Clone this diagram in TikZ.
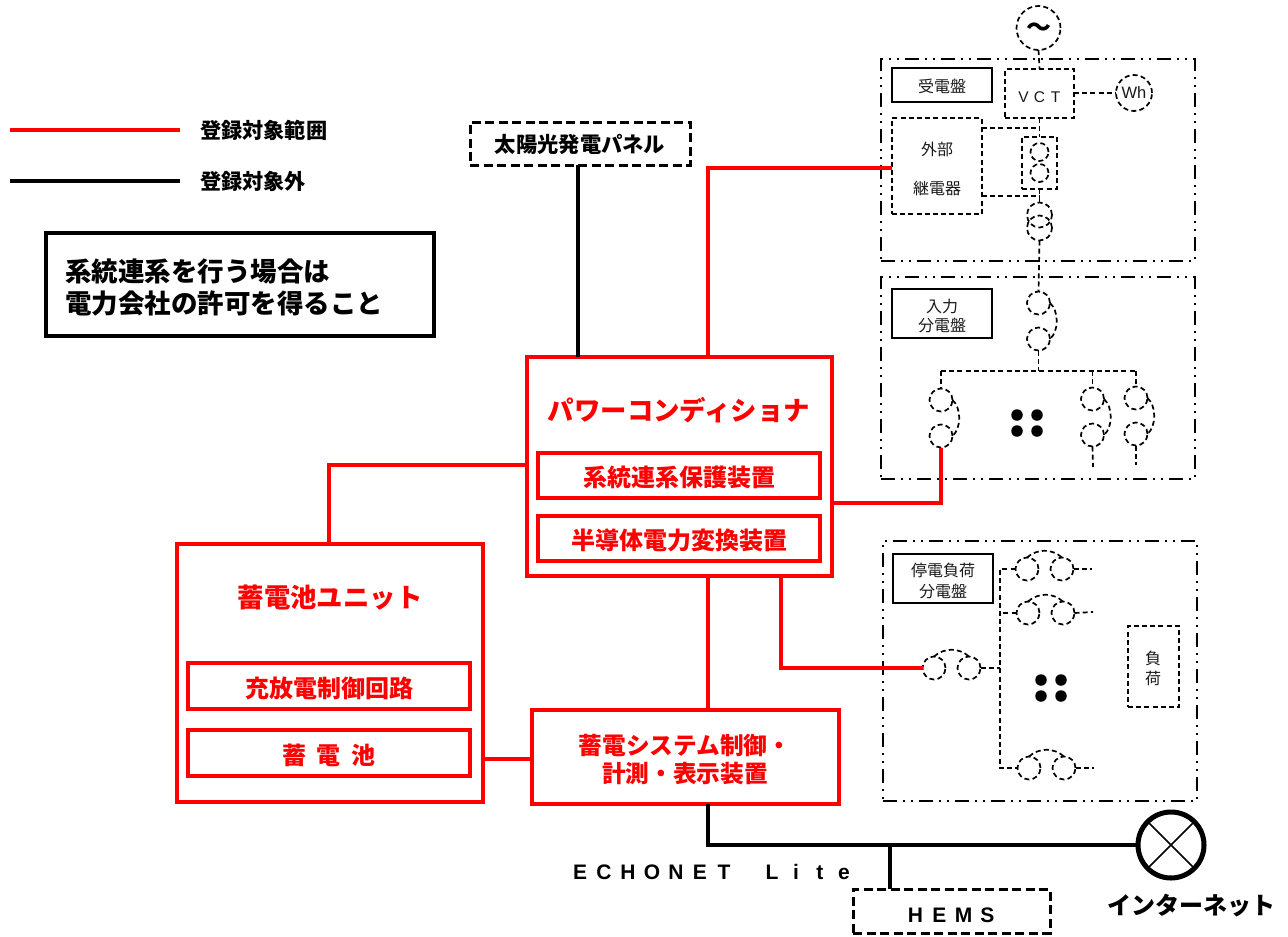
\documentclass[tikz,border=0pt]{standalone}
\usepackage{fontspec}
\setmainfont{Noto Sans CJK JP}
\newfontfamily\arialf{Liberation Sans}
\newcommand\fs[1]{\fontsize{#1}{#1}\selectfont}
\newcommand\cellw[2]{\makebox[#1pt]{#2}}
\newcommand\rnode[7][]{%
  \pgfmathsetmacro\rcx{(#3+#5)/2}\pgfmathsetmacro\rcy{(#4+#6)/2}%
  \pgfmathsetmacro\rw{#5-#3}\pgfmathsetmacro\rh{#6-#4}%
  \node[#1,minimum width=\rw pt,minimum height=\rh pt] (#2) at (\rcx,\rcy) {\raisebox{-0.47em}[0pt][0pt]{#7}};}
\newcommand\vbrk[4]{% name x y1 y2
  \node[brk] (#1a) at (#2,#3) {};
  \node[brk] (#1b) at (#2,#4) {};
  \draw[dsh] (#1a.east) .. controls ($(#1a.east)+(9,8)$) and ($(#1b.east)+(9,-8)$) .. (#1b.east);}
\newcommand\hbrk[4]{% name x1 x2 y
  \node[brk] (#1a) at (#2,#4) {};
  \node[brk] (#1b) at (#3,#4) {};
  \draw[dsh] (#1a.north) .. controls ($(#1a.north)+(10,-9)$) and ($(#1b.north)+(-10,-9)$) .. (#1b.north);}
\usetikzlibrary{calc}
\tikzset{
  x=1pt,y=-1pt,
  every node/.style={inner sep=0pt,outer sep=0pt},
  redline/.style={draw=red,line width=4.7pt,line join=miter},
  blackline/.style={draw=black,line width=4.5pt,line join=miter},
  redbox/.style={draw=red,line width=3.05pt,text=red,font=\bfseries\fs{24}},
  dshthick/.style={draw=black,line width=3pt,dash pattern=on 9pt off 4.5pt},
  panel/.style={draw=black,line width=1.8pt,dash pattern=on 14pt off 6pt on 2pt off 6pt on 2pt off 6pt},
  dsh/.style={draw=black,line width=1.7pt,dash pattern=on 5pt off 3.2pt},
  label/.style={draw=black,line width=1.8pt,text=black!90,font=\fs{16}},
  txt/.style={font=\fs{16},text=black!90},
  brk/.style={dsh,circle,minimum size=23pt},
  bld/.style={font=\bfseries\fs{24},text=black},
  dot/.style={circle,fill=black,minimum size=11.5pt},
}
\begin{document}
\begin{tikzpicture}
\useasboundingbox (0,0) rectangle (1288,937);
% legend
\coordinate (la) at (10,130); \coordinate (lb) at (180,130);
\coordinate (lc) at (10,181); \coordinate (ld) at (180,181);
\draw[redline] (la) -- (lb);
\draw[draw=black,line width=3.8pt] (lc) -- (ld);
\node[anchor=west,font=\bfseries\fs{21.2}] (ltxa) at (200,130.5) {登録対象範囲};
\node[anchor=west,font=\bfseries\fs{21.2}] (ltxb) at (200,181.5) {登録対象外};
% note
\rnode[draw=black,line width=3.2pt]{note}{46}{233}{434}{336}{}
\node[anchor=west,font=\bfseries\fs{26.5}] (notea) at (65,271.5) {系統連系を行う場合は};
\node[anchor=west,font=\bfseries\fs{26.5}] (noteb) at (65,303.5) {電力会社の許可を得ること};
% main boxes
\rnode[dshthick,font=\bfseries\fs{21.3}]{solar}{470}{122}{690}{165}{\raisebox{1pt}{太陽光発電パネル}}
\rnode[draw=red,line width=3.05pt]{pcs}{527}{357}{832}{576}{}
\node[font=\bfseries\fs{26.4},text=red] (pcst) at (679,410.5) {パワーコンディショナ};
\rnode[redbox]{pcsa}{538}{453}{820}{498}{系統連系保護装置}
\rnode[redbox]{pcsb}{538}{516}{820}{561}{半導体電力変換装置}
\rnode[draw=red,line width=3.05pt]{bat}{177}{544}{483}{802}{}
\node[font=\bfseries\fs{26.4},text=red] (batt) at (330,597.5) {蓄電池ユニット};
\rnode[redbox]{bata}{188}{663}{470}{709}{充放電制御回路}
\rnode[redbox]{batb}{188}{730}{470}{776}{蓄\hspace{11pt}電\hspace{11pt}池}
\rnode[draw=red,line width=3.05pt]{ctl}{532}{710}{839}{804}{}
\node[font=\bfseries\fs{23.7},text=red] (ctla) at (685,745) {蓄電システム制御・};
\node[font=\bfseries\fs{23.7},text=red] (ctlb) at (685,774) {計測・表示装置};
\rnode[dshthick,font=\arialf\bfseries\fs{21}]{hems}{853}{889}{1050}{933}{\raisebox{-2pt}{\cellw{24}{H}\cellw{24}{E}\cellw{24}{M}\cellw{24}{S}}}
\node[draw=black,line width=5pt,circle,minimum size=66pt] (net) at (1171,845) {};
\draw[line width=1.5pt] (net.north west) -- (net.south east) (net.north east) -- (net.south west);
\node[bld] (nett) at (1191,905.5) {インターネット};
\node[font=\arialf\bfseries\fs{21}] (echo) at (712,872) {\cellw{24}{E}\cellw{24}{C}\cellw{24}{H}\cellw{24}{O}\cellw{24}{N}\cellw{24}{E}\cellw{24}{T}\cellw{24}{ }\cellw{24}{L}\cellw{24}{i}\cellw{24}{t}\cellw{24}{e}};
% panels
\rnode[panel]{p1}{881}{59}{1195}{261}{}
\rnode[panel]{p2}{881}{277}{1195}{479}{}
\rnode[panel]{p3}{883}{541}{1197}{801}{}
% panel 1
\node[dsh,circle,minimum size=44pt] (gen) at (1038.5,28) {};
\node[font=\bfseries\fs{25}] (gent) at (1038.5,30) {～};
\rnode[label]{p1l}{892}{68}{992}{102}{受電盤}
\rnode[dsh,text=black!90,font=\arialf\fs{15.5}]{vct}{1005}{69}{1074}{118}{\raisebox{-2pt}{\cellw{16}{V}\cellw{16}{C}\cellw{16}{T}}}
\node[dsh,circle,minimum size=36pt,text=black!90,font=\arialf\fs{16.5}] (wh) at (1134,93) {Wh};
\rnode[dsh]{relay}{892}{118}{982}{214}{}
\node[txt] (relaya) at (937,149) {外部};
\node[txt] (relayb) at (937,188) {継電器};
\rnode[dsh]{ctb}{1022}{137}{1057}{189}{}
\node[dsh,circle,minimum size=18pt] (cta) at (1039.5,152) {};
\node[dsh,circle,minimum size=18pt] (ctc) at (1039.5,173) {};
\node[dsh,circle,minimum size=25pt] (tra) at (1039.5,215) {};
\node[dsh,circle,minimum size=25pt] (trb) at (1039.5,228) {};
\draw[dsh] (gen.south) -- (vct.north);
\draw[dsh] (vct.east |- wh.west) -- (wh.west);
\draw[dsh] (vct.south) -- (ctb.north);
\draw[dsh] (relay.east |- 0,128) -- (vct.south |- 0,128);
\draw[dsh] (relay.east |- 0,196) -- (vct.south |- 0,196);
\draw[dsh] (ctb.south) -- (tra.north);
% panel 2
\rnode[label]{p2l}{892}{289}{992}{338}{}
\node[txt] (p2a) at (942,306) {入力};
\node[txt] (p2b) at (942,325) {分電盤};
\vbrk{m}{1038.5}{303}{339}
\vbrk{l}{941}{400}{436}
\vbrk{c}{1092.5}{399}{435}
\vbrk{r}{1136}{398}{434}
\coordinate (bus) at (1038.5,371);
\coordinate (cs) at (1093,467);
\coordinate (rs) at (1136,465);
\draw[dsh] (trb.south) -- (ma.north);
\draw[dsh] (mb.south) -- (bus);
\draw[dsh] (la.north |- bus) -- (ra.north |- bus);
\draw[dsh] (la.north |- bus) -- (la.north);
\draw[dsh] (ca.north |- bus) -- (ca.north);
\draw[dsh] (ra.north |- bus) -- (ra.north);
\draw[dsh] (cb.south) -- (cs);
\draw[dsh] (rb.south) -- (rs);
\node[dot] (d1) at (1017,415) {}; \node[dot] (d2) at (1037,415) {};
\node[dot] (d3) at (1017,431) {}; \node[dot] (d4) at (1037,431) {};
% panel 3
\rnode[label]{p3l}{893}{554}{993}{603}{}
\node[txt] (p3a) at (943,570) {停電負荷};
\node[txt] (p3b) at (943,591) {分電盤};
\rnode[dsh]{load}{1128}{626}{1179}{707}{}
\node[txt] (loada) at (1153,658) {負};
\node[txt] (loadb) at (1153,678) {荷};
\hbrk{i}{934}{969}{668}
\hbrk{s}{1027}{1062}{569}
\hbrk{t}{1028}{1063}{613}
\hbrk{u}{1029}{1064}{768}
\coordinate (bt) at (1000,569);
\coordinate (bb) at (1000,768);
\coordinate (se) at (1092,569);
\coordinate (te) at (1093,612);
\coordinate (ue) at (1094,768);
\draw[dsh] (se -| sa.west) -- (bt) -- (bb) -- (ua.west);
\draw[dsh] (ta.west) -- (bt |- ta.west);
\draw[dsh] (ib.east) -- (bt |- ib.east);
\draw[dsh] (sb.east) -- (se);
\draw[dsh] (tb.east) -- (te);
\draw[dsh] (ub.east) -- (ue);
\node[dot] (e1) at (1041,680) {}; \node[dot] (e2) at (1061,680) {};
\node[dot] (e3) at (1041,696) {}; \node[dot] (e4) at (1061,696) {};
% connectors
\draw[blackline] (solar.south -| 578,0) -- (pcs.north -| 578,0);
\draw[redline] (pcs.north -| 708,0) -- (708,168) -- (relay.west |- 0,168);
\draw[redline] (pcs.west |- 0,465) -- (329,465) -- (bat.north -| 329,0);
\draw[redline] (pcs.east |- 0,503) -- (lb.south |- 0,503) -- (lb.south);
\draw[redline] (pcs.south -| 708,0) -- (ctl.north -| 708,0);
\draw[redline] (pcs.south -| 781,0) -- (ia.west -| 781,0) -- (ia.west);
\draw[redline] (bat.east |- 0,759) -- (ctl.west |- 0,759);
\draw[blackline] (ctl.south -| 708,0) -- (708,845) -- (net.west);
\draw[blackline] (890,845) -- (hems.north -| 890,0);
\end{tikzpicture}
\end{document}
